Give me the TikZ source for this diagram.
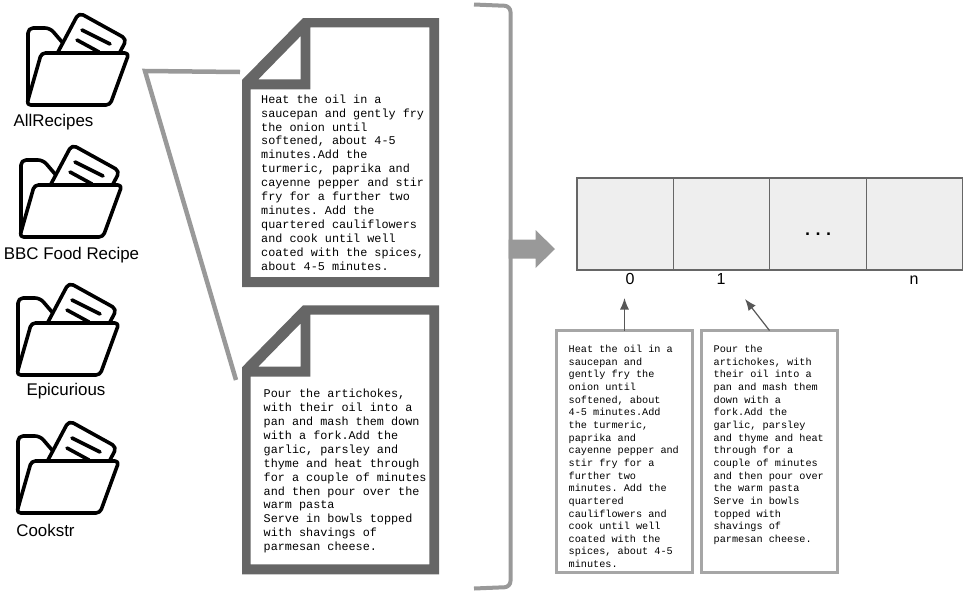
\documentclass[tikz,border=0pt]{standalone}
\usepackage{fontspec}
\usetikzlibrary{arrows.meta}
\setmainfont{Liberation Sans}
\setmonofont{Liberation Mono}
\definecolor{docgrey}{HTML}{666666}
\definecolor{linkgrey}{HTML}{999999}
\definecolor{boxgrey}{HTML}{A6A6A6}
\definecolor{cellgrey}{HTML}{EEEEEE}
\tikzset{
	folderline/.style={draw=black, line width=3.6pt, line join=round, line cap=round},
	folder/.pic={
		\draw[folderline, rounded corners=5pt] (1,86) -- (1,14) -- (23,14) -- (35,28);
		\draw[folderline, rounded corners=5pt] (31,38) -- (51.9,-1.4) -- (99.8,25.1) -- (93,38);
		\draw[folderline] (55,16) -- (83,30);
		\draw[folderline] (50,26) -- (72,38);
		\draw[folderline, rounded corners=4pt] (14.4,39) -- (102,39) -- (83,91) -- (-0.4,91) -- cycle;
	},
	paper/.pic={
		\fill[docgrey, even odd rule] (0,62) -- (61,0) -- (197,0) -- (197,269) -- (0,269) -- cycle
			(8.7,71.3) -- (8.7,259) -- (187.3,259) -- (187.3,9.3) -- (68.3,9.3) -- (68.3,71.3) -- cycle
			(16.3,61.3) -- (58.7,61.3) -- (58.7,18) -- cycle;
	},
	sitelabel/.style={font=\fontsize{16.9}{19}\selectfont, inner sep=0pt, anchor=base},
	doctext/.style={font=\ttfamily\fontsize{11.8}{13.9}\selectfont, align=left, inner sep=0pt, anchor=north west},
	slot/.style={draw=docgrey, line width=1.3pt, fill=cellgrey, minimum width=96.4pt, minimum height=92pt, inner sep=0pt, outer sep=0pt},
	indexlabel/.style={font=\fontsize{16}{18}\selectfont, inner sep=0pt, anchor=base},
	snippet/.style={draw=boxgrey, line width=2.4pt, minimum width=136pt, minimum height=242pt, inner sep=0pt, outer sep=0pt},
	snippettext/.style={font=\ttfamily\fontsize{10.2}{12.65}\selectfont, align=left, inner sep=0pt, anchor=north west},
	link/.style={draw=linkgrey, line width=4.5pt},
	pointer/.style={draw=docgrey!85!black, line width=1.2pt, -{Latex[length=11.5pt,width=9pt]}}
}
\begin{document}
\begin{tikzpicture}[x=1pt, y=-1pt]
	\useasboundingbox (0,0) rectangle (967,595);

	% folders
	\pic at (27,14) {folder};
	\pic at (20,146) {folder};
	\pic at (17,284) {folder};
	\pic at (17,422) {folder};
	\node[sitelabel] (allrecipes) at (53.5,126) {AllRecipes};
	\node[sitelabel] (bbc) at (71.5,259) {BBC Food Recipe};
	\node[sitelabel] (epicurious) at (66,395) {Epicurious};
	\node[sitelabel] (cookstr) at (45.5,536) {Cookstr};

	% zoom lines
	\coordinate (zoomtop) at (240,72);
	\coordinate (zoomtip) at (145,71);
	\coordinate (zoombottom) at (236,380);
	\draw[link, miter limit=10] (zoomtop) -- (zoomtip) -- (zoombottom);

	% documents
	\pic at (242,18) {paper};
	\pic at (242,305.3) {paper};
	\node[doctext] (recipea) at (261,94.5) {Heat the oil in a\\saucepan and gently fry\\the onion until\\softened, about 4-5\\minutes.Add the\\turmeric, paprika and\\cayenne pepper and stir\\fry for a further two\\minutes. Add the\\quartered cauliflowers\\and cook until well\\coated with the spices,\\about 4-5 minutes.};
	\node[doctext] (recipeb) at (263.5,389) {Pour the artichokes,\\with their oil into a\\pan and mash them down\\with a fork.Add the\\garlic, parsley and\\thyme and heat through\\for a couple of minutes\\and then pour over the\\warm pasta\\Serve in bowls topped\\with shavings of\\parmesan cheese.};

	% bracket and block arrow
	\coordinate (brackettop) at (474,4.5);
	\coordinate (bracketbottom) at (474,588.5);
	\draw[draw=linkgrey, line width=4pt, rounded corners=6pt] (brackettop) -- (510.5,6) -- (510.5,587) -- (bracketbottom);
	\fill[linkgrey] (508.5,239.5) -- (535.5,239.5) -- (535.5,230) -- (555,249) -- (535.5,268) -- (535.5,258.5) -- (508.5,258.5) -- cycle;

	% array
	\node[slot] (slota) at (625.2,224) {};
	\node[slot, right=0pt] (slotb) at (slota.east) {};
	\node[slot, right=0pt] (slotc) at (slotb.east) {\raisebox{-11pt}[0pt][0pt]{\ttfamily\bfseries\fontsize{17.5}{17.5}\selectfont ...}};
	\node[slot, right=0pt] (slotd) at (slotc.east) {};
	\node[indexlabel] (indexa) at (630,284) {0};
	\node[indexlabel] (indexb) at (721,284) {1};
	\node[indexlabel] (indexn) at (914,284) {n};

	% snippets
	\node[snippet] (snippeta) at (624.5,451.5) {};
	\node[snippet] (snippetb) at (769.5,451.5) {};
	\node[snippettext] (snippetatext) at (568.5,345) {Heat the oil in a\\saucepan and\\gently fry the\\onion until\\softened, about\\4-5 minutes.Add\\the turmeric,\\paprika and\\cayenne pepper and\\stir fry for a\\further two\\minutes. Add the\\quartered\\cauliflowers and\\cook until well\\coated with the\\spices, about 4-5\\minutes.};
	\node[snippettext] (snippetbtext) at (713.5,345) {Pour the\\artichokes, with\\their oil into a\\pan and mash them\\down with a\\fork.Add the\\garlic, parsley\\and thyme and heat\\through for a\\couple of minutes\\and then pour over\\the warm pasta\\Serve in bowls\\topped with\\shavings of\\parmesan cheese.};
	\coordinate (pointa) at (624.5,298);
	\coordinate (pointb) at (745,299);
	\draw[pointer] (snippeta.north) -- (pointa);
	\draw[pointer] (snippetb.north) -- (pointb);
\end{tikzpicture}
\end{document}
